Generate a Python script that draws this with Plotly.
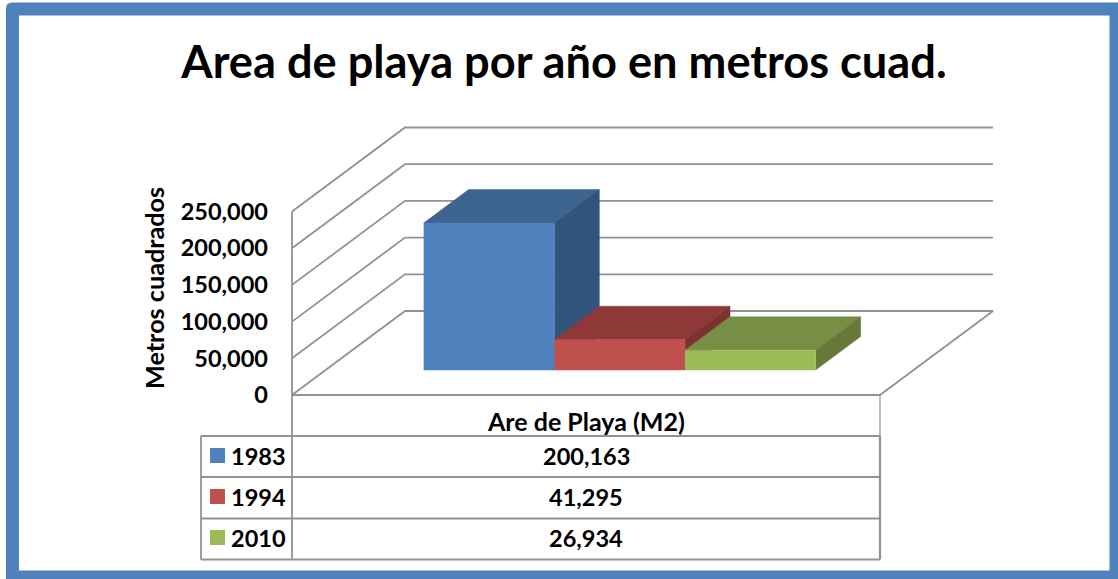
import plotly.graph_objects as go

# datos
title_text = "Area de playa por año en metros cuad."
y_title = "Metros cuadrados"
category = "Are de Playa (M2)"
years = ["1983", "1994", "2010"]
areas = [200163, 41295, 26934]
y_ticks = [0, 50000, 100000, 150000, 200000, 250000]

# colores (frente, arriba, lado)
front_colors = ["#4F81BD", "#C0504D", "#9BBB59"]
top_colors = ["#3D6390", "#8E3938", "#778F44"]
side_colors = ["#32547C", "#7C3231", "#66793B"]
grid_color = "#929292"
frame_color = "#4F81BD"
font_name = "Lato"

W, H = 1118, 579

# geometria en pixeles de la pagina
X0, X1 = 292, 880  # frente del piso
Y0 = 395  # valor 0 en el frente
PX_PER_VALUE = 183.5 / 250000
DEPTH_DX, DEPTH_DY = 113, 84
PAD = 4
GAP = 0.75  # hueco a cada lado, en anchos de barra
BAR_D0, BAR_D1 = 0.298, 0.696

PX_PER_X = X1 - X0
plot_left, plot_right = X0 - PAD, X1 + DEPTH_DX + PAD
plot_top, plot_bottom = Y0 - DEPTH_DY - 184 - PAD, Y0 + PAD

x_range = [(plot_left - X0) / PX_PER_X, (plot_right - X0) / PX_PER_X]
y_range = [-PAD / PX_PER_VALUE, (Y0 - plot_top) / PX_PER_VALUE]


def project(x, depth, value):
    # proyeccion oblicua: la profundidad mueve a la derecha y hacia arriba
    return x + depth * DEPTH_DX / PX_PER_X, value + depth * DEPTH_DY / PX_PER_VALUE


def line_trace(points, width=1.8):
    xs, ys = zip(*[project(*p) for p in points])
    return go.Scatter(
        x=xs, y=ys, mode="lines", line=dict(color=grid_color, width=width),
        hoverinfo="skip", showlegend=False,
    )


def face_trace(points, color, name, value):
    xs, ys = zip(*[project(*p) for p in points])
    return go.Scatter(
        x=xs, y=ys, mode="lines", fill="toself", fillcolor=color,
        line=dict(color=color, width=0.5), name=name,
        hovertemplate=f"{name}: {value:,}<extra></extra>", showlegend=False,
    )


def px(x):
    return x / W


def py(y):
    return 1 - y / H


fig = go.Figure()

# paredes y piso
for tick in y_ticks:
    fig.add_trace(line_trace([(0, 0, tick), (0, 1, tick), (1, 1, tick)]))
fig.add_trace(line_trace([(0, 0, 0), (0, 0, y_ticks[-1])]))
fig.add_trace(line_trace([(0, 0, 0), (1, 0, 0), (1, 1, 0)]))

# barras
bar_width = 1 / (len(years) + 2 * GAP)
for i, (year, area) in enumerate(zip(years, areas)):
    left = (GAP + i) * bar_width
    right = left + bar_width
    fig.add_trace(face_trace(
        [(left, BAR_D0, area), (left, BAR_D1, area), (right, BAR_D1, area), (right, BAR_D0, area)],
        top_colors[i], year, area))
    fig.add_trace(face_trace(
        [(right, BAR_D0, 0), (right, BAR_D1, 0), (right, BAR_D1, area), (right, BAR_D0, area)],
        side_colors[i], year, area))
    fig.add_trace(face_trace(
        [(left, BAR_D0, 0), (right, BAR_D0, 0), (right, BAR_D0, area), (left, BAR_D0, area)],
        front_colors[i], year, area))

shapes = []

# marco azul con la esquina redondeada
fl, ft = 6, 2.5
fig_frame = (
    f"M {px(fl)},{py(ft + 6)} Q {px(fl)},{py(ft)} {px(fl + 6)},{py(ft)} "
    f"L 1.01,{py(ft)} L 1.01,-0.01 L {px(fl)},-0.01 Z"
)
shapes.append(dict(type="path", xref="paper", yref="paper", path=fig_frame,
                   fillcolor=frame_color, line_width=0, layer="below"))
shapes.append(dict(type="rect", xref="paper", yref="paper", x0=px(19), x1=px(1109.5),
                   y0=py(15.5), y1=py(570.5), fillcolor="white", line_width=0, layer="below"))

# tabla de datos
TABLE_LEFT = 201
row_lines = [436, 477, 518.5, 559.5]
row_centers = [456, 497, 538]


def table_line(x0, y0, x1, y1, width=1.8):
    return dict(type="line", xref="paper", yref="paper", x0=px(x0), y0=py(y0), x1=px(x1), y1=py(y1),
                line=dict(color=grid_color, width=width))


for y in row_lines:
    shapes.append(table_line(TABLE_LEFT, y, X1, y))
shapes.append(table_line(TABLE_LEFT, row_lines[0], TABLE_LEFT, row_lines[-1]))
shapes.append(table_line(X0, Y0, X0, row_lines[-1]))
shapes.append(table_line(X1, Y0, X1, row_lines[0], 1.2))
shapes.append(table_line(X1, row_lines[0], X1, row_lines[-1], 2.2))

annotations = []


def label(text, x, y, size, anchor="center", angle=0):
    annotations.append(dict(
        text=text, x=px(x), y=py(y), xref="paper", yref="paper", xanchor=anchor, yanchor="middle",
        showarrow=False, textangle=angle,
        font=dict(family=font_name, size=size, color="black", weight="bold"),
    ))


label(y_title, 154, 288, 25.2, angle=-90)
label(category, 586, 421, 25)
for i, year in enumerate(years):
    shapes.append(dict(type="rect", xref="paper", yref="paper", x0=px(210), x1=px(225),
                       y0=py(row_centers[i] - 8), y1=py(row_centers[i] + 7),
                       fillcolor=front_colors[i], line_width=0))
    label(year, 229, row_centers[i], 23.5, "left")
    label(f"{areas[i]:,}", 586, row_centers[i], 23.5)

fig.update_layout(
    width=W,
    height=H,
    margin=dict(l=0, r=0, t=0, b=0, autoexpand=False),
    paper_bgcolor="white",
    plot_bgcolor="rgba(0,0,0,0)",
    showlegend=False,
    title=dict(
        text=title_text, x=564 / W, y=py(62), xanchor="center", yanchor="middle",
        font=dict(family=font_name, size=45.2, color="black", weight="bold"),
    ),
    xaxis=dict(
        domain=[px(plot_left), px(plot_right)], range=x_range,
        showgrid=False, zeroline=False, showticklabels=False, ticks="",
    ),
    yaxis=dict(
        domain=[py(plot_bottom), py(plot_top)], range=y_range,
        tickvals=y_ticks, ticktext=[f"{v:,}" for v in y_ticks],
        showgrid=False, zeroline=False, ticks="", ticklabelstandoff=19,
        tickfont=dict(family=font_name, size=23.5, color="black", weight="bold"),
    ),
    shapes=shapes,
    annotations=annotations,
)

fig.write_html("out.html", config=dict(displayModeBar=False),
               post_script="document.body.style.margin='0';")
